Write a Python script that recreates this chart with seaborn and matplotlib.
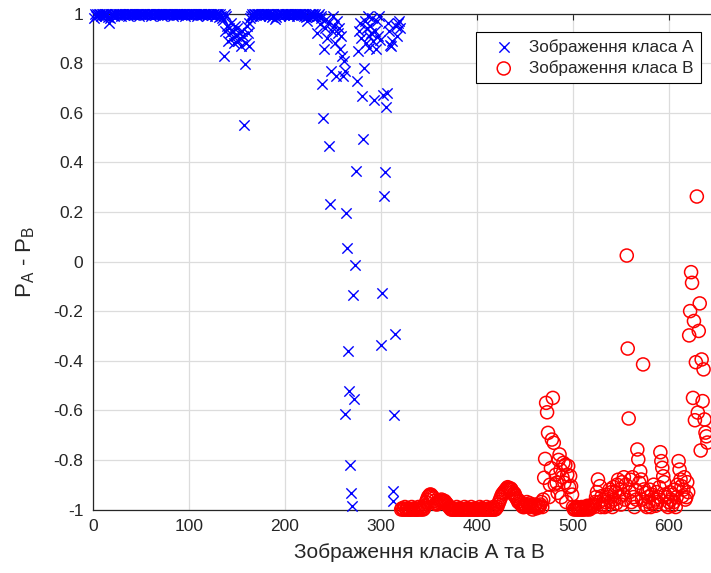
import numpy as np
import pandas as pd
import matplotlib
matplotlib.use("Agg")
import matplotlib.pyplot as plt
import seaborn as sns

# ---- data ----
A_label = "Зображення класа А"
B_label = "Зображення класа В"
x_label = "Зображення класів А та В"

x_ticks = [0, 100, 200, 300, 400, 500, 600]
y_ticks = [-1, -0.8, -0.6, -0.4, -0.2, 0, 0.2, 0.4, 0.6, 0.8, 1]
y_tick_labels = ["-1", "-0.8", "-0.6", "-0.4", "-0.2", "0", "0.2", "0.4", "0.6", "0.8", "1"]

# class A: P_A - P_B for images 1..320
A_y = [
    0.98, 1.0, 0.99, 1.0, 0.995, 1.0, 1.0, 0.99, 1.0, 1.0, 0.995, 1.0, 0.99, 1.0, 1.0, 0.985, 0.962, 0.983, 1.0, 0.995,
    1.0, 0.99, 1.0, 1.0, 0.995, 1.0, 1.0, 1.0, 0.99, 1.0, 1.0, 0.995, 1.0, 1.0, 1.0, 0.99, 1.0, 1.0, 1.0, 1.0,
    1.0, 1.0, 0.995, 1.0, 1.0, 1.0, 1.0, 0.99, 1.0, 1.0, 1.0, 1.0, 1.0, 0.995, 1.0, 1.0, 1.0, 1.0, 1.0, 0.99,
    1.0, 1.0, 1.0, 1.0, 0.995, 1.0, 1.0, 1.0, 1.0, 1.0, 1.0, 0.99, 1.0, 1.0, 1.0, 1.0, 0.995, 1.0, 1.0, 1.0,
    1.0, 1.0, 0.99, 1.0, 1.0, 1.0, 1.0, 1.0, 0.995, 1.0, 1.0, 1.0, 1.0, 1.0, 1.0, 0.99, 1.0, 1.0, 1.0, 1.0,
    1.0, 0.995, 1.0, 1.0, 1.0, 1.0, 1.0, 0.99, 1.0, 1.0, 1.0, 1.0, 1.0, 0.995, 1.0, 1.0, 1.0, 1.0, 0.99, 1.0,
    1.0, 1.0, 1.0, 0.995, 1.0, 1.0, 0.99, 1.0, 1.0, 1.0, 0.985, 1.0, 0.99, 0.98, 0.975,
    0.828, 1.0, 0.93, 0.99, 0.95, 0.89, 0.94, 0.92, 0.96, 0.90, 0.93, 0.88, 0.95, 0.91, 0.94, 0.89, 0.92, 0.90, 0.87, 0.93,
    0.91, 0.552, 0.798, 0.88, 0.95, 0.92, 0.96, 0.868, 0.98, 0.99, 1.0, 0.99, 1.0, 1.0, 0.995, 1.0, 1.0, 1.0, 0.99, 1.0,
    1.0, 1.0, 0.995, 1.0, 1.0, 1.0, 1.0, 0.99, 1.0, 1.0, 0.985, 1.0, 1.0, 0.995, 0.976, 0.985, 1.0, 1.0, 1.0, 0.99,
    1.0, 1.0, 1.0, 0.995, 1.0, 1.0, 1.0, 1.0, 0.99, 1.0, 1.0, 1.0, 0.995, 1.0, 1.0, 1.0, 1.0, 0.99, 1.0, 1.0,
    1.0, 0.995, 1.0, 1.0, 0.99, 1.0, 0.985, 0.97, 0.99, 1.0, 1.0, 0.995, 1.0, 1.0, 0.99, 1.0, 0.985,
    0.922, 0.99, 1.0, 0.956, 0.99, 0.98, 0.714, 0.579, 0.855, 0.94, 0.976, 0.90, 0.96, 0.465, 0.230, 0.767, 0.93, 0.989, 0.95, 0.88,
    0.747, 0.97, 0.92, 0.94, 0.855, 0.91, 0.828, 0.75, 0.808, 0.767, -0.613, 0.196, 0.055, -0.362, -0.523, -0.821, -0.935, -0.984, -0.136, -0.556,
    -0.015, 0.364, 0.727, 0.848, 0.93, 0.96, 0.90, 0.667, 0.495, 0.781, 0.97, 0.88, 0.94, 0.99, 0.91, 0.86, 0.95, 0.92, 0.98, 0.89,
    0.653, 0.93, 0.855, 0.97, 0.91, 0.99, 0.895, -0.337, -0.126, 0.673, 0.266, 0.360, 0.624, 0.68, 0.96, 0.93, 0.875, 0.87, 0.89, -0.966,
    -0.926, -0.617, -0.294, 0.95, 0.91, 0.96, 0.97, 0.94,
]

# class B: P_A - P_B for images 321..640
B_y = [
    -1.0, -0.995, -1.0, -1.0, -0.99, -1.0, -1.0, -0.995, -1.0, -1.0, -1.0, -0.99, -1.0, -1.0, -0.995, -1.0, -1.0, -1.0, -0.99, -1.0,
    -0.995, -1.0, -0.99, -1.0, -0.995,
    -0.985, -0.97, -0.96, -0.95, -0.945, -0.94, -0.94, -0.945, -0.95, -0.955, -0.965, -0.975, -0.98,
    -0.975, -0.97, -0.965, -0.965, -0.96, -0.965, -0.97, -0.965, -0.97, -0.975, -0.98, -0.985, -0.99, -0.995,
    -1.0, -1.0, -0.995, -1.0, -1.0, -1.0, -0.99, -1.0, -1.0, -0.995, -1.0, -1.0, -1.0, -1.0, -0.99, -1.0, -1.0, -0.995, -1.0, -1.0,
    -1.0, -0.99, -1.0, -1.0, -1.0, -0.995, -1.0, -1.0, -1.0, -1.0, -0.99, -1.0, -0.995, -1.0, -1.0, -1.0, -1.0, -0.99, -1.0, -1.0,
    -0.995, -1.0, -1.0, -1.0, -0.99, -1.0, -1.0, -0.995,
    -0.99, -0.98, -0.97, -0.96, -0.95, -0.94, -0.935, -0.93, -0.925, -0.92, -0.915, -0.91, -0.915, -0.92, -0.915, -0.92, -0.93, -0.94, -0.935, -0.945,
    -0.955, -0.96, -0.97, -0.965, -0.975, -0.98, -0.985, -0.99,
    -0.99, -0.98, -0.985, -0.97, -0.98, -0.99, -0.975, -0.985, -0.99, -1.0, -0.985, -0.99, -0.98, -0.995, -0.99, -0.985, -0.99,
    -0.98, -0.97, -0.99, -0.96, -0.872, -0.796, -0.57, -0.608, -0.691, -0.95, -0.90, -0.833, -0.718, -0.55, -0.731, -0.899, -0.86, -0.892, -0.933, -0.80,
    -0.778, -0.84, -0.95, -0.87, -0.812, -0.892, -0.82, -0.97, -0.86, -0.825, -0.91, -0.865, -0.906, -0.94, -0.99,
    -1.0, -0.995, -1.0, -0.99, -1.0, -1.0, -0.995, -1.0, -0.99, -1.0, -1.0, -0.995, -0.99, -1.0, -0.985, -0.99, -1.0, -0.995, -0.99, -0.985,
    -0.98, -0.99,
    -0.97, -0.95, -0.93, -0.879, -0.97, -0.906, -0.99, -0.946, -0.98, -0.96, -0.99, -0.97, -0.94, -0.985, -0.95, -0.92, -0.97, -0.93, -0.99, -0.91,
    -0.96, -0.93, -0.975, -0.90, -0.88, -0.95, -0.92, -0.98, -0.89, -0.94, -0.87, -0.96, -0.90,
    0.024, -0.351, -0.633, -0.93, -0.88, -0.97, -0.87, -0.95, -0.99, -0.92, -0.96,
    -0.758, -0.798, -0.892, -0.846, -0.879, -0.96, -0.415, -0.919, -0.98, -0.933, -0.99, -0.95, -0.97, -0.92, -0.99, -0.94, -0.975, -0.90, -0.96, -0.985,
    -0.93, -0.97, -0.95, -0.91, -0.769, -0.805, -0.832, -0.866, -0.89, -0.94, -0.98, -0.95, -0.99, -0.97, -0.93, -0.96, -0.985, -0.94, -0.97, -0.92,
    -0.99, -0.95, -0.90, -0.805, -0.839, -0.879, -0.906, -0.946, -0.92, -0.87, -0.96, -0.95, -0.89, -0.93,
    -0.298, -0.2, -0.043, -0.086, -0.55, -0.24, -0.64, -0.406, 0.262, -0.609, -0.28, -0.169, -0.762, -0.395, -0.563, -0.435, -0.637, -0.69, -0.705, -0.73,
]

# image indices (x axis)
A_x = np.arange(1, len(A_y) + 1)
B_x = np.arange(len(A_y) + 1, len(A_y) + len(B_y) + 1)

dfA = pd.DataFrame({"x": A_x, "y": A_y})
dfB = pd.DataFrame({"x": B_x, "y": B_y})

sns.set_theme(style="white")
plt.rcParams["font.family"] = ["Liberation Sans", "DejaVu Sans"]
plt.rcParams["mathtext.fontset"] = "custom"
plt.rcParams["mathtext.rm"] = "Liberation Sans"
plt.rcParams["mathtext.it"] = "Liberation Sans"

TXT = "#262626"
W, H = 711, 573
X_MAX = 680
fig = plt.figure(figsize=(W / 100, H / 100), dpi=100)
ax = fig.add_axes([93 / W, 1 - 509.5 / H, 0.96 * X_MAX / W, (509.5 - 13.5) / H])

sns.scatterplot(data=dfA, x="x", y="y", marker="x", color="#0000ff", s=55,
                linewidth=1.0, ax=ax, label=A_label, clip_on=False, zorder=3)
sns.scatterplot(data=dfB, x="x", y="y", marker="o", color="#ff0000",
                facecolor="none", edgecolor="#ff0000", s=88, linewidth=1.1,
                ax=ax, label=B_label, clip_on=False, zorder=3)

ax.set_xlim(0, X_MAX)
ax.set_ylim(-1, 1)
ax.set_xticks(x_ticks)
ax.set_xticklabels([str(v) for v in x_ticks])
ax.set_yticks(y_ticks)
ax.set_yticklabels(y_tick_labels)
ax.set_axisbelow(True)
ax.grid(True, color="#dcdcdc", linewidth=0.9)
for sp in ax.spines.values():
    sp.set_color(TXT)
    sp.set_linewidth(0.9)
ax.tick_params(direction="in", length=4, width=0.8, color=TXT, labelcolor=TXT,
               labelsize=12.5, top=True, right=True, pad=7)

ax.set_xlabel(x_label, fontsize=15, color=TXT, labelpad=6)
ax.set_ylabel(r"P$_\mathregular{A}$ - P$_\mathregular{B}$", fontsize=16, color=TXT, labelpad=12)

leg = ax.legend(loc="upper right", bbox_to_anchor=(700.7 / W, 1 - 32.3 / H),
                bbox_transform=fig.transFigure, fontsize=12.3, frameon=True,
                fancybox=False, framealpha=1, edgecolor="#000000",
                borderpad=0.4, labelspacing=0.3, handlelength=2.4,
                handletextpad=0.3, borderaxespad=0)
leg.get_frame().set_linewidth(0.8)
for t in leg.get_texts():
    t.set_color(TXT)

fig.savefig("out.png", dpi=100)
